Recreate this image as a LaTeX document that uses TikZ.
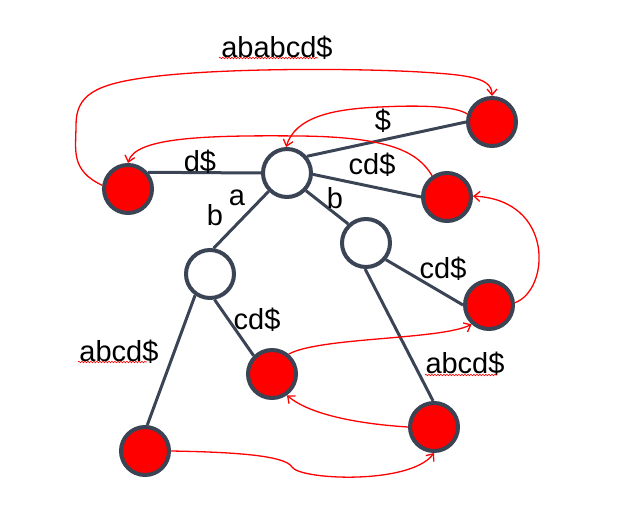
\documentclass[tikz,border=0pt]{standalone}
\usepackage{fontspec}
\setmainfont{Liberation Sans}
\usetikzlibrary{arrows.meta,decorations.pathmorphing}
\definecolor{slate}{RGB}{58,68,84}
\definecolor{pptred}{RGB}{255,0,0}
\pgfdeclarelayer{bg}
\pgfsetlayers{bg,main}
\begin{document}
\begin{tikzpicture}[x=1pt,y=1pt,
  inner/.style={circle,draw=slate,line width=4pt,fill=white,minimum size=48pt,inner sep=0pt},
  leaf/.style={circle,draw=slate,line width=4pt,fill=pptred,minimum size=48pt,inner sep=0pt},
  edge/.style={draw=slate,line width=3pt},
  link/.style={draw=pptred,line width=1.3pt,-{Straight Barb[length=6pt,width=10pt]}},
  lbl/.style={font=\fontsize{29}{32}\selectfont,inner sep=0pt},
  wavy/.style={draw=pptred,line width=0.6pt,decorate,decoration={snake,segment length=3pt,amplitude=0.8pt}}]
\useasboundingbox (0,0) rectangle (636,-508);
% nodes
\node[inner] (root) at (287,-173) {};
\node[leaf] (tr) at (492,-122) {};
\node[leaf] (lr) at (128,-189) {};
\node[leaf] (r1) at (447,-197) {};
\node[inner] (bn) at (366,-243) {};
\node[inner] (an) at (210,-274) {};
\node[leaf] (rcr) at (489,-305) {};
\node[leaf] (rc) at (272,-374) {};
\node[leaf] (br) at (434,-427) {};
\node[leaf] (bl) at (145,-451) {};
% tree edges (behind the nodes)
\begin{pgfonlayer}{bg}
\path[edge] (root.40) -- (tr.180);
\path[edge] (root.180) -- (lr.40);
\path[edge] (root.-3) -- (r1.180);
\path[edge] (root.-43) -- (bn.133);
\path[edge] (root.225) -- (an.82);
\path[edge] (bn.-40) -- (rcr.180);
\path[edge] (bn.268) -- (br.92);
\path[edge] (an.280) -- (rc.135);
\path[edge] (an.235) -- (bl.85);
\end{pgfonlayer}
% labels
\node[lbl] (l1) at (277,-48) {ababcd\$};
\node[lbl] (l2) at (383,-121) {\$};
\node[lbl] (l3) at (200,-162) {d\$};
\node[lbl] (l4) at (372,-165) {cd\$};
\node[lbl] (l5) at (237,-198) {a};
\node[lbl] (l6) at (215,-215) {b};
\node[lbl] (l7) at (335,-198) {b};
\node[lbl] (l8) at (443,-269) {cd\$};
\node[lbl] (l9) at (257,-320) {cd\$};
\node[lbl] (l10) at (119,-352) {abcd\$};
\node[lbl] (l11) at (465,-364) {abcd\$};
% spell-check underlines
\coordinate (u1a) at (219,-58); \coordinate (u1b) at (318,-58);
\coordinate (u2a) at (78,-362); \coordinate (u2b) at (147,-362);
\coordinate (u3a) at (425,-375); \coordinate (u3b) at (497,-375);
\path[wavy] (u1a) -- (u1b);
\path[wavy] (u2a) -- (u2b);
\path[wavy] (u3a) -- (u3b);
% suffix links
\path[link] (lr.172) .. controls (70,-170) and (76,-150) .. (76,-125)
  .. controls (76,-95) and (95,-84) .. (150,-77)
  .. controls (220,-68) and (350,-68) .. (420,-72)
  .. controls (470,-75) and (492,-78) .. (tr.90);
\path[link] (tr.162) .. controls (455,-106) and (420,-105) .. (380,-107)
  .. controls (330,-109) and (295,-118) .. (root.92);
\path[link] (r1.125) .. controls (418,-152) and (390,-137) .. (300,-136)
  .. controls (200,-135) and (135,-138) .. (lr.90);
\path[link] (rcr.5) .. controls (550,-290) and (555,-200) .. (r1.2);
\path[link] (rc.50) .. controls (320,-337) and (440,-340) .. (rcr.228);
\path[link] (br.180) .. controls (360,-424) and (310,-415) .. (rc.-55);
\path[link] (bl.0) .. controls (230,-452) and (285,-455) .. (292,-467)
  .. controls (300,-480) and (410,-485) .. (br.270);
\end{tikzpicture}
\end{document}
